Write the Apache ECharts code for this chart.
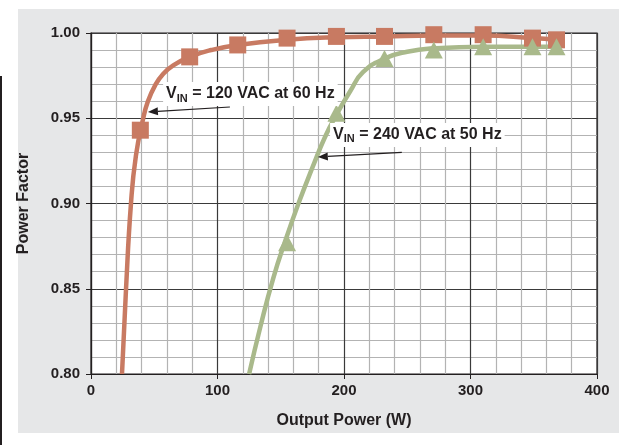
<!DOCTYPE html>
<html>
<head>
<meta charset="utf-8">
<script src="https://cdn.jsdelivr.net/npm/echarts@6/dist/echarts.min.js"></script>
<style>
  html, body { margin: 0; padding: 0; background: #fff; }
  #chart { width: 619px; height: 445px; }
</style>
</head>
<body>
<div id="chart"></div>
<script>
// curve (120 VAC / 60 Hz)
const curve120 = [
  [24.5, 0.800], [27.7, 0.850], [31.6, 0.900], [35.5, 0.928], [41.3, 0.950],
  [45, 0.960], [50.5, 0.969], [57, 0.976], [65, 0.981], [78, 0.986],
  [95, 0.990], [116, 0.993], [155, 0.996], [194, 0.9975], [232, 0.998],
  [271, 0.9985], [310, 0.9985], [349, 0.997], [368, 0.996]
];
// measured points (squares)
const points120 = [
  [39, 0.943], [78, 0.986], [116, 0.993], [155, 0.997], [194, 0.998],
  [232, 0.998], [271, 0.999], [310, 0.999], [349, 0.997], [368, 0.996]
];
// curve (240 VAC / 50 Hz)
const curve240 = [
  [125, 0.800], [134, 0.828], [144, 0.856], [154, 0.879], [164, 0.900],
  [175, 0.921], [185, 0.939], [194, 0.952], [205, 0.966], [215, 0.977],
  [232, 0.985], [250, 0.989], [271, 0.991], [310, 0.992], [349, 0.992],
  [368, 0.992]
];
// measured points (triangles)
const points240 = [
  [155, 0.877], [194, 0.953], [232, 0.985], [271, 0.990], [310, 0.992],
  [349, 0.992], [368, 0.992]
];
const xTicks = [0, 100, 200, 300, 400];
const yTicks = [0.80, 0.85, 0.90, 0.95, 1.00];

const TXT = '#231f20';
const ORANGE = '#c87a62';
const GREEN = '#a9b98b';
const FONT = 'Liberation Sans, Arial';

const chart = echarts.init(document.getElementById('chart'));

const option = {
  animation: false,
  grid: {
    left: 91, right: 22, top: 33, bottom: 71,
    show: true, backgroundColor: '#fff', borderColor: TXT, borderWidth: 1.2
  },
  xAxis: {
    type: 'value', min: xTicks[0], max: xTicks[xTicks.length - 1], interval: 100,
    name: 'Output Power (W)', nameLocation: 'middle', nameGap: 39,
    nameTextStyle: { color: TXT, fontWeight: 'bold', fontSize: 16, fontFamily: FONT },
    axisLine: { lineStyle: { color: TXT, width: 1.2 } },
    axisTick: { show: true, length: 5, lineStyle: { color: TXT } },
    axisLabel: { color: TXT, fontWeight: 'bold', fontSize: 15, margin: 9, fontFamily: FONT },
    splitLine: { lineStyle: { color: '#3a3a3a', width: 1.2 } },
    minorTick: { show: false, splitNumber: 5 },
    minorSplitLine: { show: true, lineStyle: { color: '#b3b3b3', width: 1.2 } }
  },
  yAxis: {
    type: 'value', min: yTicks[0], max: yTicks[yTicks.length - 1], interval: 0.05,
    name: 'Power Factor', nameLocation: 'middle', nameGap: 59,
    nameTextStyle: { color: TXT, fontWeight: 'bold', fontSize: 16, fontFamily: FONT },
    axisLine: { show: true, lineStyle: { color: TXT, width: 1.2 } },
    axisTick: { show: true, length: 5, lineStyle: { color: TXT } },
    axisLabel: {
      color: TXT, fontWeight: 'bold', fontSize: 15, margin: 11, fontFamily: FONT,
      formatter: v => v.toFixed(2)
    },
    splitLine: { lineStyle: { color: '#3a3a3a', width: 1.2 } },
    minorTick: { show: false, splitNumber: 5 },
    minorSplitLine: { show: true, lineStyle: { color: '#b3b3b3', width: 1.2 } }
  },
  series: [
    {
      type: 'line', data: curve120, smooth: 0.5, showSymbol: false, z: 3,
      lineStyle: { color: ORANGE, width: 4.5 }
    },
    {
      type: 'scatter', data: points120, symbol: 'rect', symbolSize: 17, z: 4, clip: false,
      itemStyle: { color: ORANGE, opacity: 1 }
    },
    {
      type: 'line', data: curve240, smooth: 0.5, showSymbol: false, z: 3,
      lineStyle: { color: GREEN, width: 4.5 }
    },
    {
      type: 'scatter', data: points240, symbol: 'triangle', symbolSize: [18, 17], z: 4, clip: false,
      itemStyle: { color: GREEN, opacity: 1 }
    }
  ]
};
chart.setOption(option);

// annotations placed in data space
const notes = [
  { label: '120 VAC at 60 Hz', at: [57, 0.9642], from: [109.8, 0.9566], to: [45, 0.9537] },
  { label: '240 VAC at 50 Hz', at: [189, 0.9402], from: [245.7, 0.930], to: [179.3, 0.9273] }
];
const graphics = [
  { type: 'rect', shape: { x: 18, y: 9, width: 601, height: 424 }, style: { fill: '#e6e7e8' }, z: -10, silent: true },
  { type: 'line', shape: { x1: 1, y1: 76, x2: 1, y2: 445 }, style: { stroke: '#231f20', lineWidth: 2 }, z: -9 }
];
notes.forEach(n => {
  const p = chart.convertToPixel('grid', n.at);
  const a = chart.convertToPixel('grid', n.from);
  const b = chart.convertToPixel('grid', n.to);
  graphics.push({
    type: 'text', x: p[0], y: p[1], z: 10,
    style: {
      text: '{v|V}{s|IN}{v| = ' + n.label + '}',
      verticalAlign: 'middle', align: 'left',
      backgroundColor: '#fff', padding: [2, 3, 2, 3],
      rich: {
        v: { fontSize: 16, fontWeight: 'bold', fill: TXT, fontFamily: FONT },
        s: { fontSize: 11, fontWeight: 'bold', fill: TXT, fontFamily: FONT, padding: [9, 0, 0, 0] }
      }
    }
  });
  const ang = Math.atan2(b[1] - a[1], b[0] - a[0]);
  const hl = 10, hw = 4;
  const bx = b[0] - hl * Math.cos(ang), by = b[1] - hl * Math.sin(ang);
  graphics.push({
    type: 'line', z: 11,
    shape: { x1: a[0], y1: a[1], x2: bx, y2: by },
    style: { stroke: TXT, lineWidth: 1.2 }
  });
  graphics.push({
    type: 'polygon', z: 11,
    shape: { points: [
      [b[0], b[1]],
      [bx + hw * Math.sin(ang), by - hw * Math.cos(ang)],
      [bx - hw * Math.sin(ang), by + hw * Math.cos(ang)]
    ] },
    style: { fill: TXT }
  });
});
chart.setOption({ graphic: graphics });
</script>
</body>
</html>
